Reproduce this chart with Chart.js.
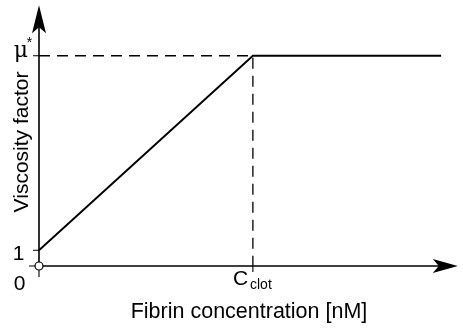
<!DOCTYPE html>
<html>
<head>
<meta charset="utf-8">
<script src="https://cdn.jsdelivr.net/npm/chart.js@4/dist/chart.umd.min.js"></script>
<style>
  body { margin: 0; background: #fff; }
  #box { width: 463px; height: 331px; position: relative; }
</style>
</head>
<body>
<div id="box"><canvas id="myChart"></canvas></div>
<script>
// schematic values (C_clot taken as 1 unit on the x axis)
const concentration = [0, 1, 1.88];
const viscosity = [1, 13.4, 13.4];
const cClot = 1;
const muStar = 13.4;
const yTickValues = [0, 1, muStar];
const xTickValues = [0, cClot];
const xMax = 1.958;
const yMax = 16.62;

const font = "Liberation Sans, Arial, sans-serif";

const axesPlugin = {
    id: 'axes',
    beforeDatasetsDraw(chart) {
        const c = chart.ctx;
        const xs = chart.scales.x, ys = chart.scales.y;
        const x0 = xs.getPixelForValue(0), y0 = ys.getPixelForValue(0);
        const xEnd = xs.getPixelForValue(xMax), yEnd = ys.getPixelForValue(yMax);
        c.save();
        c.strokeStyle = '#000';
        c.fillStyle = '#000';
        c.lineWidth = 1.6;
        // axis lines
        c.beginPath();
        c.moveTo(x0, y0); c.lineTo(xEnd - 10, y0);
        c.moveTo(x0, y0); c.lineTo(x0, yEnd + 10);
        c.stroke();
        // arrow heads
        c.beginPath();
        c.moveTo(xEnd, y0); c.lineTo(xEnd - 25, y0 - 7); c.lineTo(xEnd - 19, y0); c.lineTo(xEnd - 25, y0 + 7);
        c.closePath(); c.fill();
        c.beginPath();
        c.moveTo(x0, yEnd); c.lineTo(x0 - 7, yEnd + 28); c.lineTo(x0, yEnd + 22); c.lineTo(x0 + 7, yEnd + 28);
        c.closePath(); c.fill();
        // ticks
        c.lineWidth = 1.1;
        c.beginPath();
        yTickValues.forEach(v => {
            const p = ys.getPixelForValue(v);
            c.moveTo(v === 0 ? x0 - 10 : x0 - 6, p); c.lineTo(x0, p);
        });
        xTickValues.forEach(v => {
            const p = xs.getPixelForValue(v);
            c.moveTo(p, y0); c.lineTo(p, v === 0 ? y0 + 11 : y0 + 6);
        });
        c.stroke();
        // tick labels
        c.textAlign = 'center';
        c.textBaseline = 'alphabetic';
        c.font = '21px ' + font;
        c.fillText('1', 18.5, ys.getPixelForValue(1) + 10);
        c.fillText('0', 19.5, y0 + 24);
        c.font = '22px DejaVu Serif, serif';
        c.fillText('\u03bc', 21, ys.getPixelForValue(muStar) + 1);
        c.font = '14px ' + font;
        c.fillText('*', 29.5, ys.getPixelForValue(muStar) - 9);
        c.textAlign = 'left';
        c.font = '21px ' + font;
        c.fillText('C', 233, y0 + 19);
        c.font = '14px ' + font;
        c.fillText('clot', 250, y0 + 23);
        // axis titles
        c.font = '21.5px ' + font;
        c.textAlign = 'center';
        c.fillText('Fibrin concentration [nM]', 249, 318);
        c.translate(28, 142);
        c.rotate(-Math.PI / 2);
        c.font = '21px ' + font;
        c.fillText('Viscosity factor', 0, 0);
        c.restore();
    }
};

const ctx = document.getElementById('myChart').getContext('2d');
new Chart(ctx, {
    type: 'scatter',
    data: {
        datasets: [
            {
                data: concentration.map((x, i) => ({ x: x, y: viscosity[i] })),
                showLine: true,
                borderColor: '#000',
                borderWidth: 1.9,
                pointRadius: 0,
                clip: false
            },
            {
                data: [{ x: 0, y: muStar }, { x: cClot, y: muStar }, { x: cClot, y: 0 }],
                showLine: true,
                borderColor: '#000',
                borderWidth: 1.3,
                borderDash: [11, 7],
                pointRadius: 0,
                clip: false
            },
            {
                data: [{ x: 0, y: 0 }],
                pointRadius: 4,
                pointBackgroundColor: '#fff',
                pointBorderColor: '#000',
                pointBorderWidth: 1.2,
                clip: false
            }
        ]
    },
    options: {
        responsive: true,
        maintainAspectRatio: false,
        animation: false,
        layout: { padding: { left: 39, right: 1, top: 0, bottom: 65 } },
        plugins: { legend: { display: false }, tooltip: { enabled: false } },
        scales: {
            x: { type: 'linear', min: 0, max: xMax, display: false },
            y: { type: 'linear', min: 0, max: yMax, display: false }
        }
    },
    plugins: [axesPlugin]
});
</script>
</body>
</html>
